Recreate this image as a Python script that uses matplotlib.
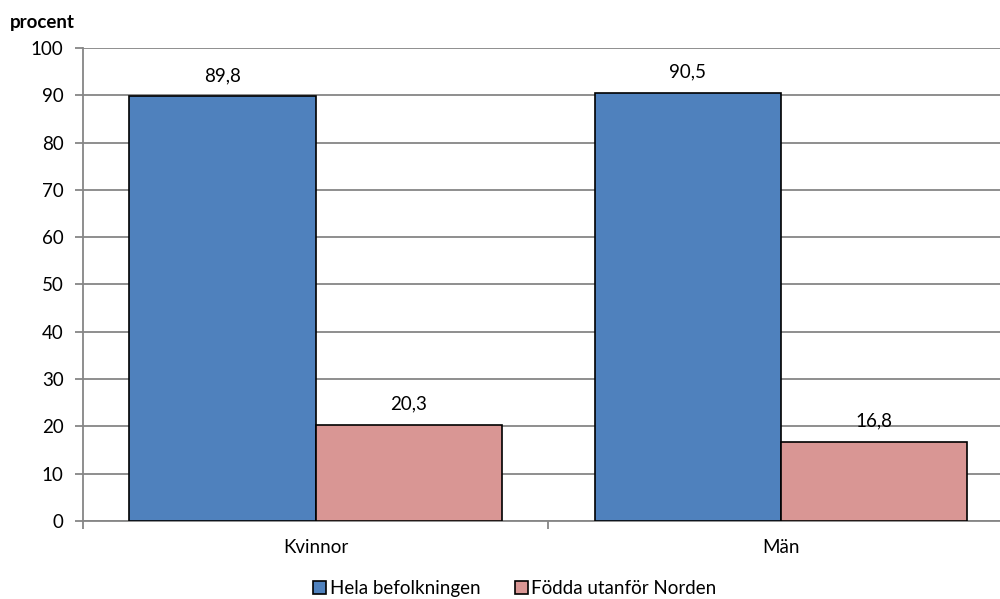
import numpy as np
import matplotlib
matplotlib.use("Agg")
import matplotlib.pyplot as plt

# Data
categories = ["Kvinnor", "Män"]
series_names = ["Hela befolkningen", "Födda utanför Norden"]
hela = [89.8, 90.5]
fodda = [20.3, 16.8]
colors = ["#4F81BD", "#D99694"]

plt.rcParams["font.family"] = ["Lato", "DejaVu Sans"]
fs = 13.5

fig = plt.figure(figsize=(10, 5.99), dpi=100)
ax = fig.add_axes([0.083, 0.1302, 0.930, 0.7897])

x = np.arange(len(categories))
width = 0.4
axis_col = "#868686"

ax.set_axisbelow(True)
ax.yaxis.grid(True, color=axis_col, linewidth=1.3)

b1 = ax.bar(x - width / 2, hela, width, color=colors[0], edgecolor="black",
            linewidth=1.2, label=series_names[0], zorder=3)
b2 = ax.bar(x + width / 2, fodda, width, color=colors[1], edgecolor="black",
            linewidth=1.2, label=series_names[1], zorder=3)

for bars, vals in [(b1, hela), (b2, fodda)]:
    for rect, v in zip(bars, vals):
        ax.text(rect.get_x() + rect.get_width() / 2, v + 2.6,
                f"{v:.1f}".replace(".", ","), ha="center", va="bottom", fontsize=fs)

ax.set_xlim(-0.5, len(categories) - 0.5)
ax.set_ylim(0, 100)
ax.set_yticks(np.arange(0, 101, 10))
ax.set_yticklabels([str(v) for v in range(0, 101, 10)], fontsize=fs)

# category labels, ticks sit on the boundaries
ax.set_xticks(np.arange(-0.5, len(categories)), minor=False)
ax.set_xticklabels([""] * (len(categories) + 1))
ax.set_xticks(x, minor=True)
ax.set_xticklabels(categories, minor=True, fontsize=fs)
ax.tick_params(axis="x", which="minor", length=0, pad=13)
ax.tick_params(axis="x", which="major", length=6, color=axis_col, width=1.3)
ax.tick_params(axis="y", length=6, color=axis_col, width=1.3, pad=8)

for side in ["top", "right"]:
    ax.spines[side].set_visible(False)
for side in ["left", "bottom"]:
    ax.spines[side].set_color(axis_col)
    ax.spines[side].set_linewidth(1.3)

fig.text(0.010, 0.963, "procent", fontsize=fs, fontweight="bold", va="center")

fig.legend(handles=[b1, b2], labels=series_names, loc="center",
           bbox_to_anchor=(0.515, 0.017), ncol=2, frameon=False, fontsize=fs,
           handlelength=0.7, handleheight=0.7, handletextpad=0.2, columnspacing=1.8)

fig.savefig("out.png", dpi=100)
